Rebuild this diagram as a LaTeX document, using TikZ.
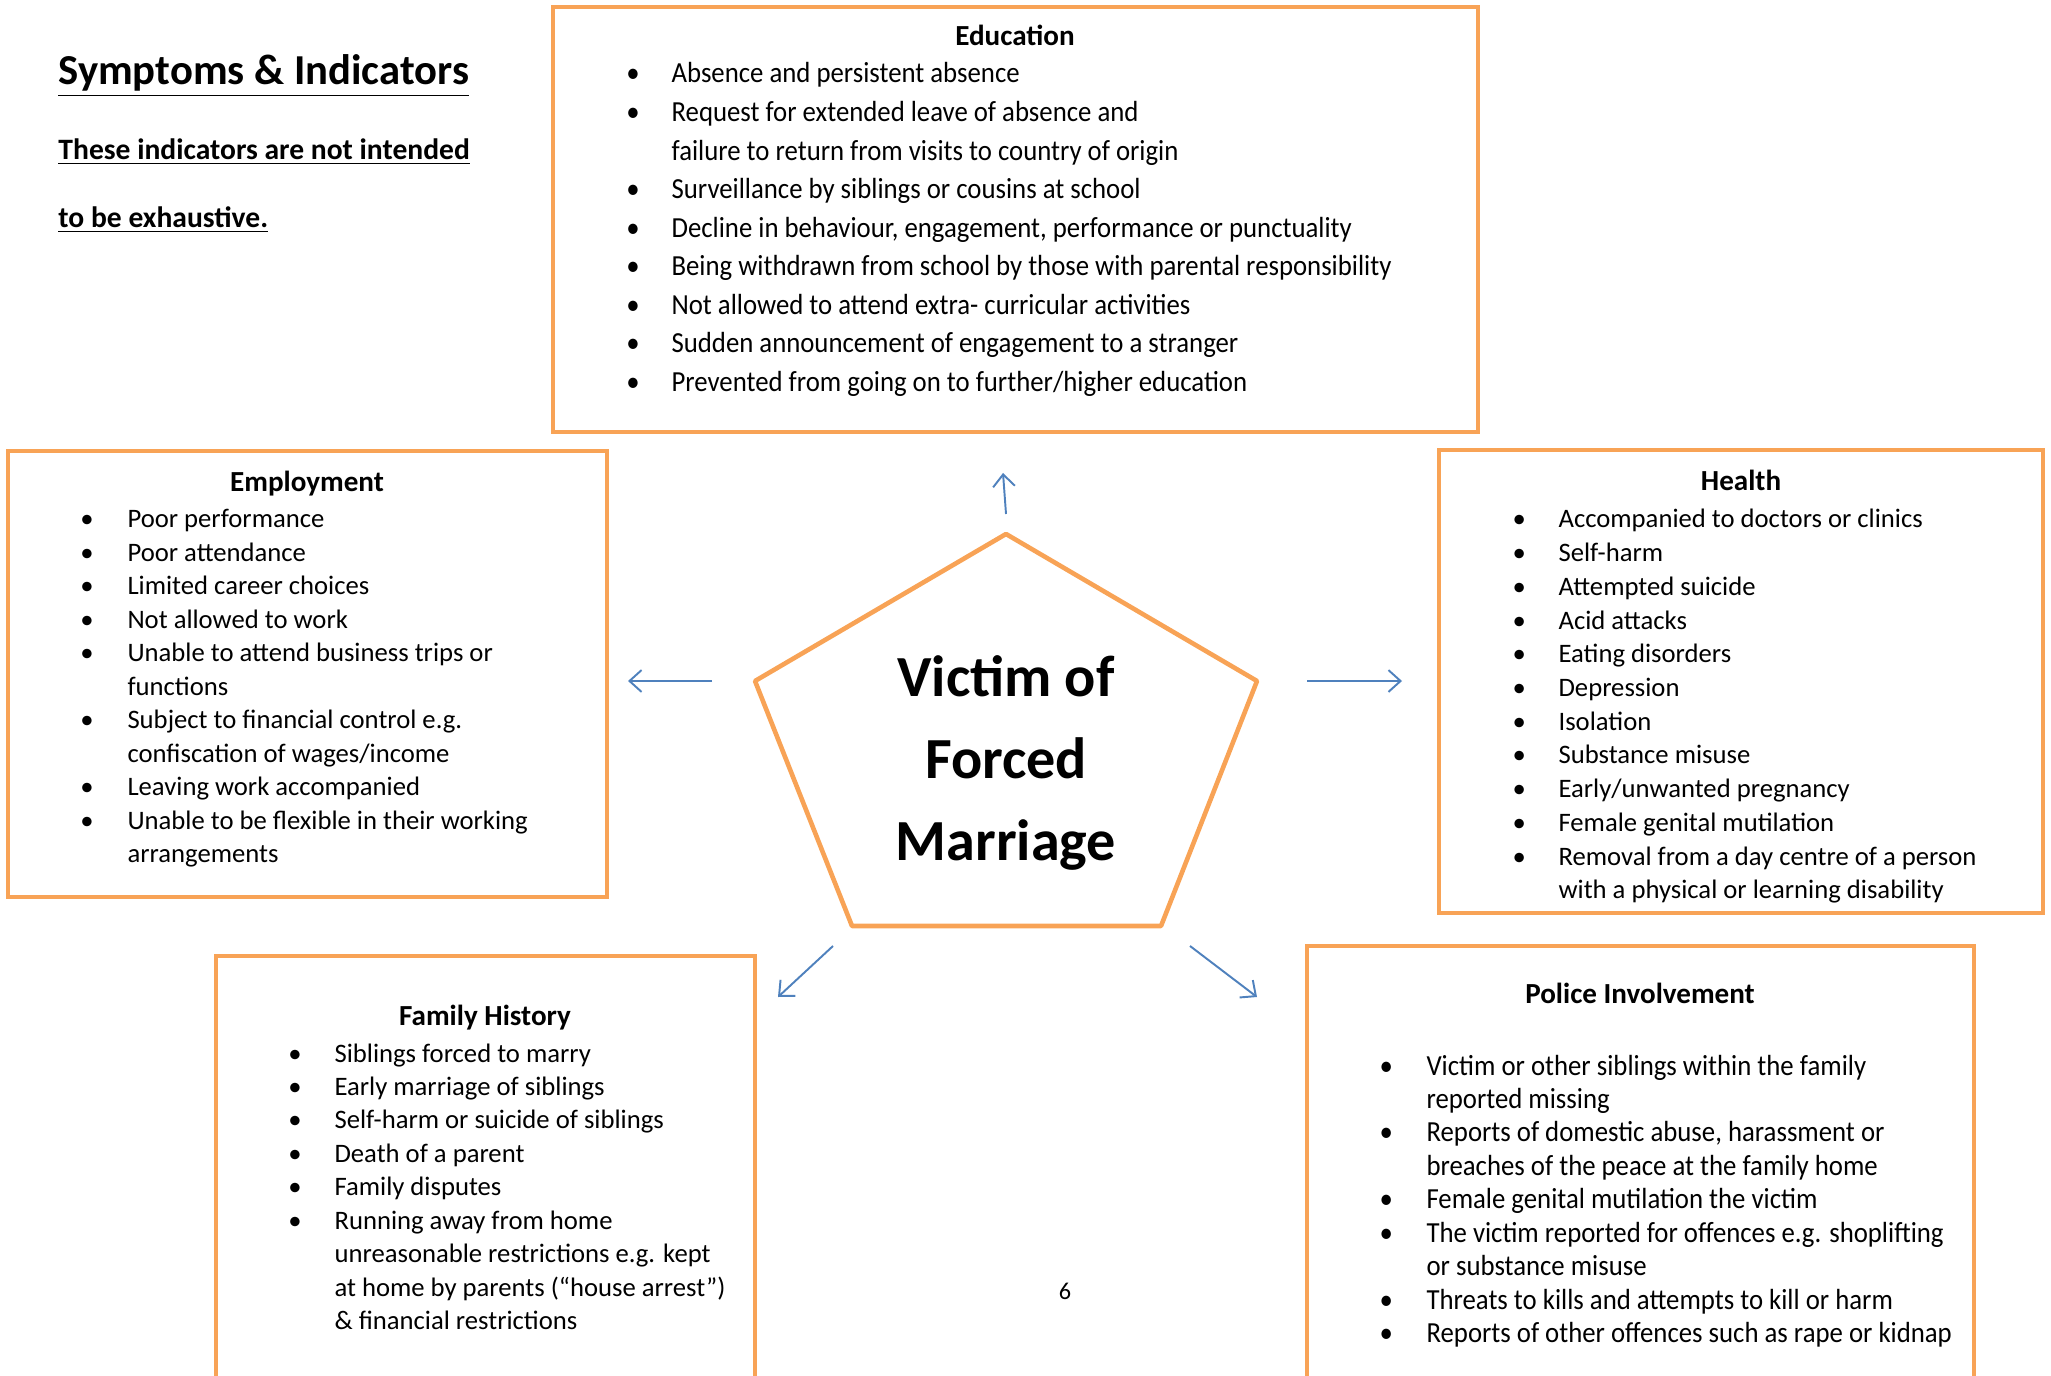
\documentclass[tikz,border=0pt]{standalone}
\usepackage{fontspec}
\setmainfont{Carlito}
\newfontfamily\narrowfont[FakeStretch=0.92]{Carlito}
\usetikzlibrary{arrows.meta,fit,positioning}

\definecolor{boxorange}{RGB}{248,163,86}
\definecolor{arrowblue}{RGB}{79,129,189}

\begin{document}
\begin{tikzpicture}[x=0.0145cm, y=-0.0145cm,
    panel/.style={draw=boxorange, line width=1.9pt, inner sep=0pt},
    heading/.style={font=\fontsize{12}{15}\bfseries\selectfont, anchor=base},
    items/.style={anchor=base west, inner sep=0pt, align=left},
    link/.style={draw=arrowblue, line width=0.8pt, -{Straight Barb[length=5pt,width=9pt]}}]
  \clip (0,0) rectangle (2051,1376);

  % title
  \node[anchor=base west, inner sep=0pt, font=\fontsize{17.6}{21}\bfseries\selectfont] (title) at (58,85) {\underline{Symptoms \& Indicators}};
  \node[anchor=base west, inner sep=0pt, font=\fontsize{12.2}{15}\bfseries\selectfont] (note1) at (58,160) {\underline{These indicators are not intended}};
  \node[anchor=base west, inner sep=0pt, font=\fontsize{12.2}{15}\bfseries\selectfont] (note2) at (58,228) {\underline{to be exhaustive.}};

  % the five boxes
  \node[panel, fit={(553,7) (1478,432)}] (education) {};
  \node[panel, fit={(8,451) (607,897)}] (employment) {};
  \node[panel, fit={(1439,450) (2043,913)}] (health) {};
  \node[panel, fit={(216,956) (755,1400)}] (family) {};
  \node[panel, fit={(1307,946) (1974,1400)}] (police) {};

  \node[heading] (edutitle) at (1015,46) {Education};
  \node[items, font=\narrowfont\fontsize{12}{15.9}\selectfont] (eduitems) at (626,83) {\begin{tabular}[t]{@{}p{18.6pt}@{}l@{}}
    \textbullet & Absence and persistent absence\\
    \textbullet & Request for extended leave of absence and\\
                & failure to return from visits to country of origin\\
    \textbullet & Surveillance by siblings or cousins at school\\
    \textbullet & Decline in behaviour, engagement, performance or punctuality\\
    \textbullet & Being withdrawn from school by those with parental responsibility\\
    \textbullet & Not allowed to attend extra- curricular activities\\
    \textbullet & Sudden announcement of engagement to a stranger\\
    \textbullet & Prevented from going on to further/higher education
  \end{tabular}};

  \node[heading] (emptitle) at (307,492) {Employment};
  \node[items, font=\fontsize{11}{13.8}\selectfont] (empitems) at (80,528) {\begin{tabular}[t]{@{}p{19.4pt}@{}l@{}}
    \textbullet & Poor performance\\
    \textbullet & Poor attendance\\
    \textbullet & Limited career choices\\
    \textbullet & Not allowed to work\\
    \textbullet & Unable to attend business trips or\\
                & functions\\
    \textbullet & Subject to financial control e.g.\\
                & confiscation of wages/income\\
    \textbullet & Leaving work accompanied\\
    \textbullet & Unable to be flexible in their working\\
                & arrangements
  \end{tabular}};

  \node[heading] (healthtitle) at (1741,490) {Health};
  \node[items, font=\fontsize{11}{13.9}\selectfont] (healthitems) at (1512,528) {\begin{tabular}[t]{@{}p{19pt}@{}l@{}}
    \textbullet & Accompanied to doctors or clinics\\
    \textbullet & Self-harm\\
    \textbullet & Attempted suicide\\
    \textbullet & Acid attacks\\
    \textbullet & Eating disorders\\
    \textbullet & Depression\\
    \textbullet & Isolation\\
    \textbullet & Substance misuse\\
    \textbullet & Early/unwanted pregnancy\\
    \textbullet & Female genital mutilation\\
    \textbullet & Removal from a day centre of a person\\
                & with a physical or learning disability
  \end{tabular}};

  \node[heading] (famtitle) at (485,1025) {Family History};
  \node[items, font=\fontsize{11}{13.8}\selectfont] (famitems) at (288,1062) {\begin{tabular}[t]{@{}p{19pt}@{}l@{}}
    \textbullet & Siblings forced to marry\\
    \textbullet & Early marriage of siblings\\
    \textbullet & Self-harm or suicide of siblings\\
    \textbullet & Death of a parent\\
    \textbullet & Family disputes\\
    \textbullet & Running away from home\\
                & unreasonable restrictions e.g. kept\\
                & at home by parents (“house arrest”)\\
                & \& financial restrictions
  \end{tabular}};

  \node[heading] (poltitle) at (1640,1003) {Police Involvement};
  \node[items, font=\narrowfont\fontsize{12}{13.8}\selectfont] (politems) at (1379,1075) {\begin{tabular}[t]{@{}p{19.4pt}@{}l@{}}
    \textbullet & Victim or other siblings within the family\\
                & reported missing\\
    \textbullet & Reports of domestic abuse, harassment or\\
                & breaches of the peace at the family home\\
    \textbullet & Female genital mutilation the victim\\
    \textbullet & The victim reported for offences e.g. shoplifting\\
                & or substance misuse\\
    \textbullet & Threats to kills and attempts to kill or harm\\
    \textbullet & Reports of other offences such as rape or kidnap
  \end{tabular}};

  % centre pentagon
  \draw[boxorange, line width=1.9pt, line join=round]
    (1006,534) -- (1257,681) -- (1161,926) -- (852,926) -- (755,681) -- cycle;
  \node[align=center, font=\fontsize{24}{34}\bfseries\selectfont] (victim) at (1006,763) {Victim of\\Forced\\Marriage};

  % arrows out of the pentagon
  \coordinate (upS) at (1006,514);   \coordinate (upE) at (1003,473);
  \coordinate (leftS) at (712,681);  \coordinate (leftE) at (628,681);
  \coordinate (rightS) at (1307,681); \coordinate (rightE) at (1402,681);
  \coordinate (dlS) at (833,946);    \coordinate (dlE) at (778,997);
  \coordinate (drS) at (1190,946);   \coordinate (drE) at (1257,997);
  \draw[link] (upS) -- (upE);
  \draw[link] (leftS) -- (leftE);
  \draw[link] (rightS) -- (rightE);
  \draw[link] (dlS) -- (dlE);
  \draw[link] (drS) -- (drE);

  \node (pagenum) at (1065,1291) {6};
\end{tikzpicture}
\end{document}
